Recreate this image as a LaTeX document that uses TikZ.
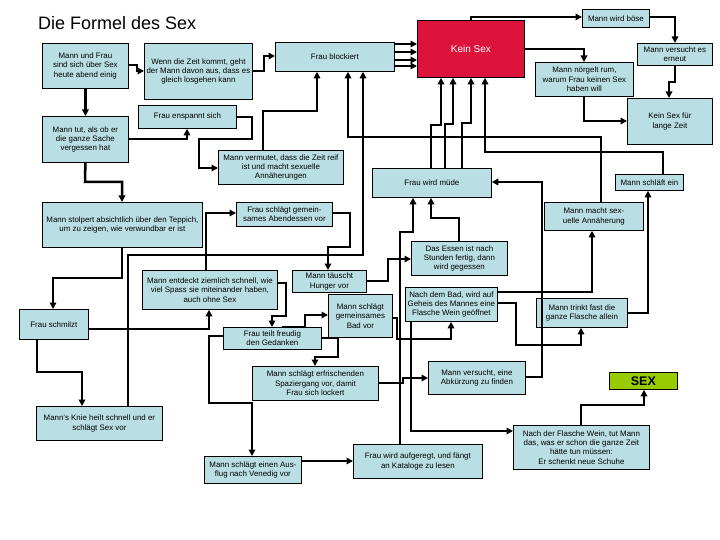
\documentclass[tikz,border=0pt]{standalone}
\usepackage{fontspec}
\setmainfont{Liberation Sans}
\usetikzlibrary{arrows.meta}
\definecolor{boxblue}{RGB}{185,223,228}
\definecolor{ksred}{RGB}{220,20,60}
\definecolor{sexgreen}{RGB}{153,204,0}
\begin{document}
\begin{tikzpicture}[x=1pt,y=-1pt,
  box/.style={draw, line width=0.8pt, fill=boxblue, anchor=north west, inner sep=1pt, align=center, font=\fontsize{7.9}{9.3}\selectfont},
  conn/.style={line width=2.5pt, line join=miter, -{Triangle[length=6.5pt,width=6.5pt]}}]
\useasboundingbox (0,0) rectangle (720,540);
\node[anchor=base west, inner sep=0, font=\fontsize{18}{20}\selectfont] (title) at (38,30) {Die Formel des Sex};

\node[box, minimum width=86pt, minimum height=45pt] (A) at (42,43) {Mann und Frau\\sind sich über Sex\\heute abend einig};
\node[box, minimum width=108pt, minimum height=56pt] (B) at (144,43) {Wenn die Zeit kommt, geht\\der Mann davon aus, dass es\\gleich losgehen kann};
\node[box, minimum width=119pt, minimum height=29pt] (C) at (275,42) {Frau blockiert};
\node[box, fill=ksred, text=white, minimum width=107pt, minimum height=57pt, font=\fontsize{10}{12}\selectfont] (KS) at (417,20) {Kein Sex};
\node[box, minimum width=67pt, minimum height=18pt] (MB) at (582,9) {Mann wird böse};
\node[box, minimum width=75pt, minimum height=22pt] (MVE) at (637,43) {Mann versucht es\\erneut};
\node[box, minimum width=98pt, minimum height=34pt] (MN) at (535,62) {Mann nörgelt rum,\\warum Frau keinen Sex\\haben will};
\node[box, minimum width=85pt, minimum height=46pt] (KSL) at (627,98) {Kein Sex für\\lange Zeit};
\node[box, minimum width=98pt, minimum height=23pt] (FE) at (138,105) {Frau enspannt sich};
\node[box, minimum width=86pt, minimum height=46pt] (MT) at (42,116) {Mann tut, als ob er\\die ganze Sache\\vergessen hat};
\node[box, minimum width=125pt, minimum height=34pt] (MV) at (218,150) {Mann vermutet, dass die Zeit reif\\ist und macht sexuelle\\Annäherungen};
\node[box, minimum width=119pt, minimum height=29pt] (FM) at (372,168) {Frau wird müde};
\node[box, minimum width=68pt, minimum height=16pt] (MSE) at (615,174) {Mann schläft ein};
\node[box, minimum width=99pt, minimum height=28pt] (MMS) at (544,202) {Mann macht sex-\\uelle Annäherung};
\node[box, minimum width=160pt, minimum height=45pt] (MST) at (42,202) {Mann stolpert absichtlich über den Teppich,\\um zu zeigen, wie verwundbar er ist};
\node[box, minimum width=96pt, minimum height=24pt] (FSA) at (236,202) {Frau schlägt gemein-\\sames Abendessen vor};
\node[box, minimum width=96pt, minimum height=34pt] (DE) at (411,241) {Das Essen ist nach\\Stunden fertig, dann\\wird gegessen};
\node[box, minimum width=135pt, minimum height=39pt] (MEZ) at (142,270) {Mann entdeckt ziemlich schnell, wie\\viel Spass sie miteinander haben,\\auch ohne Sex};
\node[box, minimum width=74pt, minimum height=22pt] (MTH) at (292,270) {Mann täuscht\\Hunger vor};
\node[box, minimum width=64pt, minimum height=43pt] (MSB) at (328,294) {Mann schlägt\\gemeinsames\\Bad vor};
\node[box, minimum width=92pt, minimum height=34pt] (NB) at (405,287) {Nach dem Bad, wird auf\\Geheis des Mannes eine\\Flasche Wein geöffnet};
\node[box, minimum width=91pt, minimum height=29pt] (MTF) at (536,298) {Mann trinkt fast die\\ganze Flasche allein};
\node[box, minimum width=69pt, minimum height=30pt] (FS) at (19,309) {Frau schmilzt};
\node[box, minimum width=98pt, minimum height=22pt] (FTG) at (223,327) {Frau teilt freudig\\den Gedanken};
\node[box, minimum width=126pt, minimum height=34pt] (MSS) at (252,366) {Mann schlägt erfrischenden\\Spaziergang vor, damit\\Frau sich lockert};
\node[box, minimum width=97pt, minimum height=33pt] (MVA) at (428,361) {Mann versucht, eine\\Abkürzung zu finden};
\node[box, fill=sexgreen, minimum width=68pt, minimum height=17pt, font=\fontsize{12.5}{14}\selectfont\bfseries] (SEX) at (609,372) {SEX};
\node[box, minimum width=126pt, minimum height=34pt] (MK) at (36,406) {Mann's Knie heilt schnell und er\\schlägt Sex vor};
\node[box, minimum width=97pt, minimum height=27pt] (MAV) at (204,456) {Mann schlägt einen Aus-\\flug nach Venedig vor};
\node[box, minimum width=129pt, minimum height=34pt] (FAK) at (353,444) {Frau wird aufgeregt, und fängt\\an Kataloge zu lesen};
\node[box, minimum width=136pt, minimum height=44pt] (NF) at (513,425) {Nach der Flasche Wein, tut Mann\\das, was er schon die ganze Zeit\\hätte tun müssen:\\Er schenkt neue Schuhe};

% connectors
\draw[conn] (A.east |- 0,65) -- (137,65) -- (137,71) -- (B.west |- 0,71);
\draw[conn] (B.east |- 0,71) -- (264,71) -- (264,56) -- (C.west |- 0,56);
\draw[conn] (A.south) -- (MT.north);
\draw[conn] (MT.east |- 0,139) -| (FE.south -| 187,0);
\draw[conn] (FE.east |- 0,117) -- (252,117) -- (252,139) -- (199,139) -- (199,168) -- (MV.west |- 0,168);
\draw[conn] (MV.north -| 263,0) -- (263,111) -- (317,111) -- (C.south -| 317,0);
\draw[conn] (MT.south) -- (85,182) -- (122,182) -- (MST.north -| 122,0);
\draw[conn] (MST.south -| 122,0) -- (122,278) -- (53,278) -- (FS.north -| 53,0);
\draw[conn] (FS.east |- 0,329) -| (MEZ.south -| 209,0);
\draw[conn] (FS.south -| 37,0) -- (37,372) -- (82,372) -- (MK.north -| 82,0);
\draw[conn] (MK.north -| 128,0) -- (128,255) -- (363,255) -- (C.south -| 363,0);
\draw[conn] (MMS.north -| 601,0) -- (601,137) -- (348,137) -- (C.south -| 348,0);
\draw[conn] (C.east |- 0,44) -- (KS.west |- 0,44);
\draw[conn] (C.east |- 0,52) -- (KS.west |- 0,52);
\draw[conn] (C.east |- 0,60) -- (KS.west |- 0,60);
\draw[conn] (C.east |- 0,66) -- (KS.west |- 0,66);
\draw[conn] (FM.north -| 431,0) -- (431,125) -- (441,125) -- (KS.south -| 441,0);
\draw[conn] (FM.north -| 445,0) -- (445,124) -- (453,124) -- (KS.south -| 453,0);
\draw[conn] (FM.north -| 462,0) -- (462,123) -- (471,123) -- (KS.south -| 471,0);
\draw[conn] (MSE.north -| 663,0) -- (663,152) -- (485,152) -- (KS.south -| 485,0);
\draw[conn] (KS.north -| 471,0) |- (MB.west |- 0,17);
\draw[conn] (MB.east |- 0,17) -| (MVE.north -| 675,0);
\draw[conn] (MVE.south -| 675,0) -- (675,82) -- (669,82) -- (KSL.north -| 669,0);
\draw[conn] (KS.east |- 0,49) -| (MN.north -| 584,0);
\draw[conn] (MN.south -| 584,0) |- (KSL.west |- 0,121);
\draw[conn] (DE.north -| 459,0) -- (459,218) -- (431,218) -- (FM.south -| 431,0);
\draw[conn] (FAK.north -| 400,0) -- (400,232) -- (413,232) -- (FM.south -| 413,0);
\draw[conn] (MVA.east |- 0,377) -- (542,377) -- (542,182) -- (FM.east |- 0,182);
\draw[conn] (NB.east |- 0,292) -| (MMS.south -| 592,0);
\draw[conn] (MTF.east |- 0,313) -| (MSE.south -| 648,0);
\draw[conn] (NB.east |- 0,303) -- (516,303) -- (516,345) -- (581,345) -- (MTF.south -| 581,0);
\draw[conn] (MSB.east |- 0,318) -- (397,318) -- (397,339) -- (451,339) -- (NB.south -| 451,0);
\draw[conn] (MTH.east |- 0,281) -- (388,281) -- (388,259) -- (DE.west |- 0,259);
\draw[conn] (FSA.east |- 0,213) -- (350,213) -- (350,247) -- (328,247) -- (MTH.north -| 328,0);
\draw[conn] (MEZ.north -| 206,0) |- (FSA.west |- 0,213);
\draw[conn] (MEZ.east |- 0,283) -- (286,283) -- (286,316) -- (272,316) -- (FTG.north -| 272,0);
\draw[conn] (FTG.north -| 282,0) -- (305,327) -- (305,315) -- (MSB.west |- 0,315);
\draw[conn] (FTG.east |- 0,338) -- (338,338) -- (338,357) -- (315,357) -- (MSS.north -| 315,0);
\draw[conn] (FTG.west |- 0,336) -- (209,336) -- (209,403) -- (252,403) -- (MAV.north -| 252,0);
\draw[conn] (MSS.east |- 0,383) -- (403,383) -- (403,378) -- (MVA.west |- 0,378);
\draw[conn] (MAV.east |- 0,461) -- (FAK.west |- 0,461);
\draw[conn] (NF.north -| 581,0) -- (581,405) -- (644,405) -- (SEX.south -| 644,0);
\draw[conn] (NB.south -| 411,0) |- (NF.west |- 0,431);
\end{tikzpicture}
\end{document}
